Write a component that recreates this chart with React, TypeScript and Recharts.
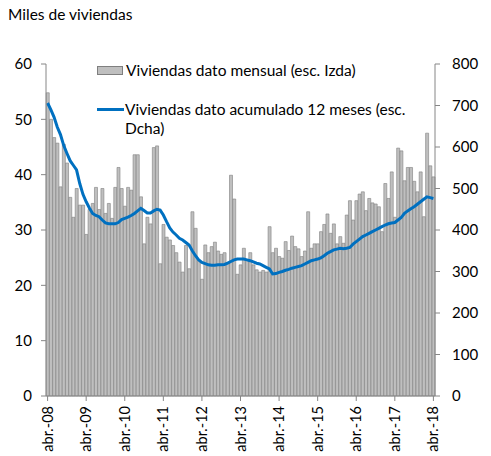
import { Bar, ComposedChart, Line, XAxis, YAxis } from "recharts";

const monthNames = ["abr.", "may.", "jun.", "jul.", "ago.", "sep.", "oct.", "nov.", "dic.", "ene.", "feb.", "mar."];

// apr-08 .. apr-18, one label per month
const categories: string[] = [];
for (let i = 0; i <= 120; i++) {
  const yr = 8 + Math.floor((i + 3) / 12);
  categories.push(`${monthNames[i % 12]}-${String(yr).padStart(2, "0")}`);
}

// thousands of dwellings, monthly (left axis)
const monthly = [
  54.8, 50.0, 46.7, 45.7, 37.8, 45.5, 42.1, 35.9, 32.3, 37.5, 34.5, 34.5,
  29.2, 33.7, 34.8, 37.7, 33.7, 37.5, 33.0, 34.8, 32.1, 37.7, 41.3, 37.5,
  34.3, 37.7, 37.2, 43.6, 43.6, 36.0, 27.5, 32.3, 31.1, 44.9, 45.2, 23.9,
  31.0, 28.7, 28.2, 27.2, 25.9, 24.2, 22.4, 27.2, 23.0, 33.3, 30.3, 24.6,
  21.1, 27.3, 25.9, 27.0, 27.8, 26.2, 25.6, 25.9, 24.0, 39.9, 35.6, 22.0,
  23.7, 26.7, 24.6, 25.9, 23.7, 22.8, 22.4, 22.7, 22.4, 30.6, 25.9, 26.7,
  25.2, 24.9, 27.9, 26.3, 28.9, 27.0, 26.6, 25.2, 26.2, 33.3, 26.7, 27.5,
  27.5, 29.7, 31.0, 32.9, 29.4, 31.1, 27.5, 28.8, 27.6, 32.7, 35.3, 31.8,
  35.3, 36.5, 36.9, 33.5, 35.7, 34.9, 34.7, 34.2, 29.7, 38.4, 35.7, 40.5,
  32.3, 44.8, 44.3, 38.9, 41.3, 41.3, 38.8, 36.9, 40.5, 32.4, 47.5, 41.6,
  39.6,
];

// 12-month cumulative (right axis)
const cumulative = [
  706, 690, 672, 648, 630, 604, 585, 567, 556, 545, 512, 486,
  468, 453, 440, 435, 432, 424, 417, 415, 415, 415, 418, 425,
  428, 431, 435, 440, 446, 452, 447, 441, 441, 446, 450, 448,
  436, 420, 405, 395, 388, 380, 376, 370, 364, 350, 338, 328,
  322, 319, 316, 315, 315, 316, 316, 317, 320, 324, 328, 330,
  330, 330, 328, 326, 323, 320, 318, 314, 310, 306, 294, 295,
  298, 300, 303, 305, 308, 310, 312, 314, 318, 322, 326, 328,
  330, 333, 338, 344, 348, 352, 354, 356, 355, 356, 358, 366,
  372, 378, 384, 388, 392, 396, 400, 404, 408, 412, 415, 417,
  418, 424, 430, 440, 446, 451, 456, 462, 468, 474, 480, 478,
  476,
];

const leftTicks = [0, 10, 20, 30, 40, 50, 60];
const rightTicks = [0, 100, 200, 300, 400, 500, 600, 700, 800];

const data = categories.map((c, i) => ({ label: c, monthly: monthly[i], cumulative: cumulative[i] }));

const font = "Lato, 'Open Sans', sans-serif";
const axisColor = "#868686";

function XTick(props: any) {
  const { x, y, payload } = props;
  return (
    <text
      x={x}
      y={y}
      transform={`rotate(-90, ${x}, ${y})`}
      textAnchor="end"
      dy="0.35em"
      fontSize={14.5}
      fill="#000"
      fontFamily={font}
    >
      {payload.value}
    </text>
  );
}

export default function App() {
  return (
    <div style={{ position: "absolute", left: 0, top: 0, width: 491, height: 456, background: "#fff", fontFamily: font }}>
      <div style={{ position: "absolute", left: 8, top: 5, fontSize: 15.5, color: "#000" }}>Miles de viviendas</div>
      <ComposedChart
        width={491}
        height={456}
        data={data}
        margin={{ top: 64, right: 0, bottom: 0, left: 0 }}
        barCategoryGap="8%"
      >
        <XAxis
          dataKey="label"
          interval={11}
          tick={<XTick />}
          tickSize={5}
          tickMargin={5}
          height={60}
          stroke={axisColor}
          tickLine={{ stroke: axisColor }}
        />
        <YAxis
          yAxisId="left"
          domain={[0, 60]}
          ticks={leftTicks}
          width={46}
          tickSize={5}
          tickMargin={9}
          stroke={axisColor}
          tick={{ fill: "#000", fontSize: 15, fontFamily: font }}
        />
        <YAxis
          yAxisId="right"
          orientation="right"
          domain={[0, 800]}
          ticks={rightTicks}
          width={56}
          tickSize={5}
          tickMargin={12}
          stroke={axisColor}
          tick={{ fill: "#000", fontSize: 15, fontFamily: font, textAnchor: "start" }}
        />
        <Bar
          yAxisId="left"
          dataKey="monthly"
          fill="#bfbfbf"
          stroke="#7f7f7f"
          strokeWidth={0.6}
          isAnimationActive={false}
        />
        <Line
          yAxisId="right"
          dataKey="cumulative"
          stroke="#0070c0"
          strokeWidth={3}
          dot={false}
          type="linear"
          isAnimationActive={false}
        />
      </ComposedChart>
      <div style={{ position: "absolute", left: 97, top: 61, fontSize: 15.5, color: "#000", lineHeight: "19px", whiteSpace: "nowrap" }}>
        <div style={{ display: "flex", alignItems: "center" }}>
          <span style={{ display: "inline-block", width: 24, height: 7, background: "#bfbfbf", border: "1px solid #7f7f7f", marginRight: 3 }} />
          <span>Viviendas dato mensual (esc. Izda)</span>
        </div>
        <div style={{ display: "flex", alignItems: "flex-start", marginTop: 20 }}>
          <span style={{ display: "inline-block", width: 27, height: 3, background: "#0070c0", marginTop: 8, marginRight: 1 }} />
          <span>
            Viviendas dato acumulado 12 meses (esc.
            <br />
            Dcha)
          </span>
        </div>
      </div>
    </div>
  );
}
